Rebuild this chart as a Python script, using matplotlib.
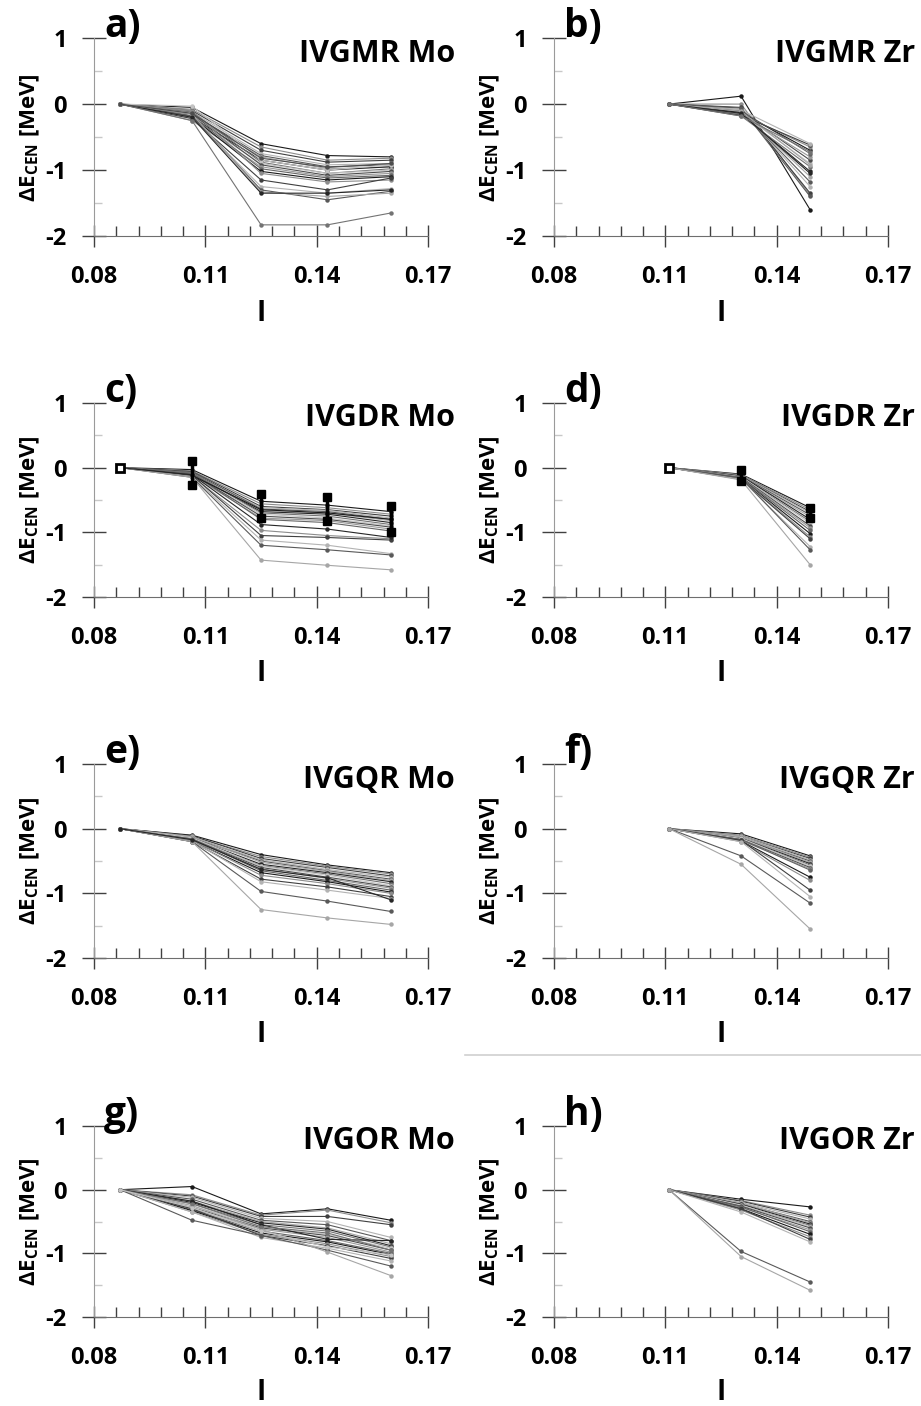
import matplotlib
matplotlib.use("Agg")
import matplotlib.pyplot as plt
from matplotlib.ticker import FixedLocator
from matplotlib.lines import Line2D

plt.rcParams['font.family'] = ['Open Sans', 'DejaVu Sans']
plt.rcParams['font.weight'] = 'bold'
plt.rcParams['mathtext.fontset'] = 'custom'
plt.rcParams['mathtext.rm'] = 'Open Sans:bold'
plt.rcParams['mathtext.bf'] = 'Open Sans:bold'
plt.rcParams['axes.unicode_minus'] = False

# isospin asymmetry of the isotopes
I_MO = [0.087, 0.1064, 0.125, 0.1429, 0.160]
I_ZR = [0.111, 0.1304, 0.149]

X_TICKS = [0.08, 0.11, 0.14, 0.17]
X_MINOR = [0.086, 0.092, 0.098, 0.104, 0.116, 0.122, 0.128, 0.134,
           0.146, 0.152, 0.158, 0.164]
Y_TICKS = [-2, -1, 0, 1]
Y_MINOR = [-1.5, -0.5, 0.5]

# IVGMR Mo
GMR_MO = [
    [0, -0.05, -0.60, -0.78, -0.80],
    [0, -0.08, -0.65, -0.85, -0.82],
    [0, -0.10, -0.70, -0.88, -0.85],
    [0, -0.12, -0.75, -0.92, -0.90],
    [0, -0.15, -0.78, -0.95, -0.92],
    [0, -0.18, -0.80, -0.98, -0.95],
    [0, -0.20, -0.85, -1.00, -0.95],
    [0, -0.12, -0.88, -1.05, -0.98],
    [0, -0.22, -0.90, -1.05, -1.00],
    [0, -0.15, -0.92, -1.08, -1.02],
    [0, -0.25, -0.95, -1.10, -1.05],
    [0, -0.18, -0.98, -1.12, -1.08],
    [0, -0.20, -1.02, -1.15, -1.10],
    [0, -0.10, -1.05, -1.18, -1.15],
    [0, -0.22, -1.15, -1.30, -1.12],
    [0, -0.20, -1.25, -1.35, -1.28],
    [0, -0.18, -1.30, -1.45, -1.32],
    [0, -0.15, -1.33, -1.40, -1.35],
    [0, -0.20, -1.35, -1.35, -1.30],
    [0, -0.25, -1.83, -1.83, -1.65],
    [0, -0.03, -0.85, -1.00, -0.92],
    [0, -0.14, -0.82, -0.96, -0.90],
]

# IVGMR Zr
GMR_ZR = [
    [0, 0.12, -1.60], [0, 0.00, -1.38], [0, -0.05, -1.35], [0, -0.08, -1.25],
    [0, -0.10, -1.18], [0, -0.12, -1.10], [0, -0.15, -1.02], [0, -0.18, -0.95],
    [0, -0.14, -0.90], [0, -0.12, -0.85], [0, -0.16, -0.80], [0, -0.10, -0.75],
    [0, -0.13, -0.70], [0, -0.15, -0.65], [0, -0.17, -0.62], [0, -0.09, -0.60],
    [0, -0.06, -1.40], [0, -0.11, -0.92], [0, -0.14, -1.05], [0, -0.18, -0.72],
]

# IVGDR Mo
GDR_MO = [
    [0, -0.03, -0.52, -0.58, -0.68],
    [0, -0.05, -0.56, -0.62, -0.72],
    [0, -0.06, -0.60, -0.65, -0.75],
    [0, -0.08, -0.62, -0.66, -0.78],
    [0, -0.07, -0.64, -0.68, -0.80],
    [0, -0.09, -0.66, -0.70, -0.82],
    [0, -0.10, -0.68, -0.72, -0.85],
    [0, -0.08, -0.70, -0.75, -0.88],
    [0, -0.11, -0.72, -0.78, -0.90],
    [0, -0.10, -0.75, -0.80, -0.92],
    [0, -0.12, -0.78, -0.82, -0.95],
    [0, -0.09, -0.80, -0.85, -0.98],
    [0, -0.12, -0.65, -0.70, -0.80],
    [0, -0.13, -0.97, -1.05, -1.10],
    [0, -0.12, -1.05, -1.08, -1.12],
    [0, -0.14, -1.12, -1.20, -1.33],
    [0, -0.15, -1.20, -1.27, -1.35],
    [0, -0.15, -1.43, -1.51, -1.58],
    [0, -0.11, -0.88, -0.95, -1.08],
]
GDR_MO_EXP_HI = [0, 0.11, -0.40, -0.45, -0.60]
GDR_MO_EXP_LO = [0, -0.27, -0.78, -0.82, -1.00]

# IVGDR Zr
GDR_ZR = [
    [0, -0.10, -0.62], [0, -0.11, -0.65], [0, -0.12, -0.68], [0, -0.12, -0.70],
    [0, -0.13, -0.73], [0, -0.14, -0.76], [0, -0.13, -0.80], [0, -0.15, -0.83],
    [0, -0.14, -0.86], [0, -0.15, -0.90], [0, -0.16, -0.93], [0, -0.16, -0.97],
    [0, -0.17, -1.02], [0, -0.17, -1.07], [0, -0.18, -1.10], [0, -0.18, -1.22],
    [0, -0.16, -1.27], [0, -0.19, -1.50],
]
GDR_ZR_EXP_HI = [0, -0.04, -0.62]
GDR_ZR_EXP_LO = [0, -0.20, -0.78]

# IVGQR Mo
GQR_MO = [
    [0, -0.10, -0.40, -0.56, -0.68],
    [0, -0.12, -0.43, -0.58, -0.70],
    [0, -0.11, -0.46, -0.60, -0.73],
    [0, -0.13, -0.48, -0.63, -0.75],
    [0, -0.14, -0.50, -0.65, -0.78],
    [0, -0.12, -0.52, -0.66, -0.80],
    [0, -0.15, -0.55, -0.68, -0.82],
    [0, -0.16, -0.57, -0.70, -0.85],
    [0, -0.14, -0.58, -0.72, -0.88],
    [0, -0.17, -0.60, -0.75, -0.90],
    [0, -0.18, -0.62, -0.77, -0.92],
    [0, -0.16, -0.65, -0.80, -0.95],
    [0, -0.19, -0.68, -0.82, -0.98],
    [0, -0.18, -0.72, -0.85, -1.00],
    [0, -0.20, -0.78, -0.90, -1.05],
    [0, -0.19, -0.82, -0.95, -1.08],
    [0, -0.20, -0.97, -1.12, -1.28],
    [0, -0.20, -1.25, -1.38, -1.48],
    [0, -0.17, -0.63, -0.76, -1.10],
]

# IVGQR Zr
GQR_ZR = [
    [0, -0.08, -0.42], [0, -0.10, -0.44], [0, -0.12, -0.46], [0, -0.12, -0.48],
    [0, -0.14, -0.50], [0, -0.13, -0.52], [0, -0.15, -0.54], [0, -0.16, -0.56],
    [0, -0.15, -0.58], [0, -0.17, -0.60], [0, -0.18, -0.62], [0, -0.17, -0.64],
    [0, -0.19, -0.75], [0, -0.20, -0.80], [0, -0.18, -0.95], [0, -0.20, -1.05],
    [0, -0.42, -1.15], [0, -0.55, -1.55],
]

# IVGOR Mo
GOR_MO = [
    [0, 0.05, -0.38, -0.30, -0.48],
    [0, -0.08, -0.40, -0.32, -0.52],
    [0, -0.10, -0.42, -0.42, -0.55],
    [0, -0.12, -0.45, -0.50, -0.75],
    [0, -0.15, -0.48, -0.55, -0.80],
    [0, -0.18, -0.50, -0.60, -0.85],
    [0, -0.20, -0.52, -0.62, -0.88],
    [0, -0.22, -0.55, -0.65, -0.90],
    [0, -0.25, -0.58, -0.70, -0.92],
    [0, -0.28, -0.60, -0.72, -0.95],
    [0, -0.30, -0.62, -0.75, -0.98],
    [0, -0.32, -0.65, -0.80, -1.00],
    [0, -0.33, -0.68, -0.82, -1.02],
    [0, -0.35, -0.70, -0.85, -1.05],
    [0, -0.30, -0.72, -0.88, -1.08],
    [0, -0.35, -0.75, -0.92, -1.12],
    [0, -0.48, -0.72, -0.95, -1.20],
    [0, -0.25, -0.62, -0.98, -1.35],
    [0, -0.18, -0.55, -0.78, -0.80],
    [0, -0.22, -0.58, -0.68, -0.95],
    [0, -0.28, -0.65, -0.90, -1.02],
]

# IVGOR Zr
GOR_ZR = [
    [0, -0.15, -0.27], [0, -0.17, -0.40], [0, -0.18, -0.43], [0, -0.20, -0.46],
    [0, -0.22, -0.50], [0, -0.21, -0.52], [0, -0.23, -0.54], [0, -0.25, -0.56],
    [0, -0.24, -0.58], [0, -0.26, -0.60], [0, -0.28, -0.63], [0, -0.27, -0.66],
    [0, -0.30, -0.70], [0, -0.32, -0.74], [0, -0.30, -0.78], [0, -0.35, -0.82],
    [0, -0.97, -1.45], [0, -1.05, -1.58],
]

GRAYS = ['#1a1a1a', '#8c8c8c', '#404040', '#b3b3b3', '#595959', '#a6a6a6',
         '#262626', '#737373', '#c4c4c4', '#4d4d4d', '#999999', '#666666']


def draw_panel(ax, x, curves, letter, title, exp_hi=None, exp_lo=None):
    for k, y in enumerate(curves):
        c = GRAYS[k % len(GRAYS)]
        ax.plot(x, y, '-o', color=c, lw=0.8, ms=2.2, zorder=2)

    if exp_hi is not None:
        for xi, hi, lo in zip(x, exp_hi, exp_lo):
            if hi == lo:
                ax.plot(xi, hi, 's', ms=6, mfc='white', mec='black', mew=2, zorder=4)
            else:
                ax.plot([xi, xi], [lo, hi], color='black', lw=2.5, zorder=4)
                ax.plot([xi, xi], [lo, hi], 's', color='black', ms=6, zorder=4)

    ax.set_xlim(0.08, 0.17)
    ax.set_ylim(-2, 1)
    for s in ['top', 'right']:
        ax.spines[s].set_visible(False)
    ax.spines['left'].set_color('#9a9a9a')
    ax.spines['bottom'].set_color('#6e6e6e')

    ax.xaxis.set_major_locator(FixedLocator(X_TICKS))
    ax.xaxis.set_minor_locator(FixedLocator(X_MINOR))
    ax.yaxis.set_major_locator(FixedLocator(Y_TICKS))
    ax.yaxis.set_minor_locator(FixedLocator(Y_MINOR))

    ax.tick_params(axis='x', which='major', direction='inout', length=16,
                   width=1, color='#404040', labelsize=17, pad=13)
    ax.tick_params(axis='x', which='minor', direction='in', length=7,
                   width=1, color='#404040')
    ax.tick_params(axis='y', which='major', direction='inout', length=17,
                   width=1, color='#404040', labelsize=17, pad=11)
    ax.tick_params(axis='y', which='minor', direction='in', length=6,
                   width=1, color='#c8c8c8')

    ax.set_xlabel('I', fontsize=20, fontweight='bold')
    ax.xaxis.set_label_coords(0.5, -0.32)
    ax.set_ylabel(r'ΔE$_{\mathrm{CEN}}$ [MeV]', fontsize=16, fontweight='bold')
    ax.yaxis.set_label_coords(-0.155, 0.5)

    ax.text(0.03, 1.06, letter, transform=ax.transAxes, fontsize=28,
            fontweight='bold', ha='left', va='center')
    ax.text(1.08, 0.92, title, transform=ax.transAxes, fontsize=22,
            fontweight='bold', ha='right', va='center')


fig = plt.figure(figsize=(9.21, 14.06), dpi=100)

col_left = [0.1021, 0.6015]
width = 0.3627
rows = [(0.8321, 0.1408), (0.5754, 0.1380), (0.3186, 0.1380), (0.0633, 0.1358)]

panels = [
    (I_MO, GMR_MO, 'a)', 'IVGMR Mo', None, None),
    (I_ZR, GMR_ZR, 'b)', 'IVGMR Zr', None, None),
    (I_MO, GDR_MO, 'c)', 'IVGDR Mo', GDR_MO_EXP_HI, GDR_MO_EXP_LO),
    (I_ZR, GDR_ZR, 'd)', 'IVGDR Zr', GDR_ZR_EXP_HI, GDR_ZR_EXP_LO),
    (I_MO, GQR_MO, 'e)', 'IVGQR Mo', None, None),
    (I_ZR, GQR_ZR, 'f)', 'IVGQR Zr', None, None),
    (I_MO, GOR_MO, 'g)', 'IVGOR Mo', None, None),
    (I_ZR, GOR_ZR, 'h)', 'IVGOR Zr', None, None),
]

for i, (x, curves, letter, title, hi, lo) in enumerate(panels):
    r, c = divmod(i, 2)
    bottom, height = rows[r]
    ax = fig.add_axes([col_left[c], bottom, width, height])
    draw_panel(ax, x, curves, letter, title, hi, lo)

# thin separator line seen between panels f and h
fig.add_artist(Line2D([0.505, 1.0], [1 - 1055 / 1406, 1 - 1055 / 1406],
                      color='#d0d0d0', lw=1.2))

fig.savefig('out.png', dpi=100)
